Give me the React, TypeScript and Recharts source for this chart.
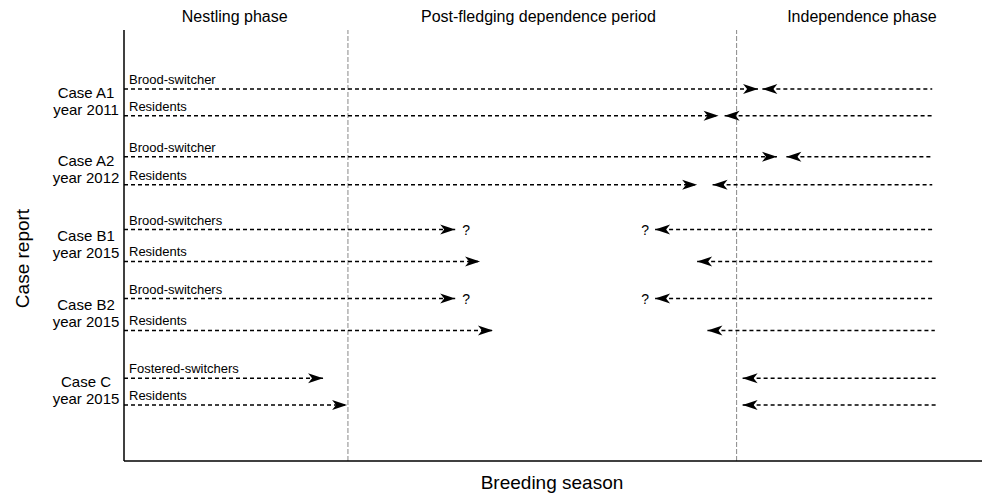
import React from 'react';
import { ComposedChart, XAxis, YAxis, ReferenceLine, Scatter } from 'recharts';

const FONT = '"Liberation Sans", Arial, Helvetica, sans-serif';

// season axis runs 0..100, case axis runs 0..100 (top to bottom)
const phaseNames = ['Nestling phase', 'Post-fledging dependence period', 'Independence phase'];
const phaseLabelAt = [12.9, 48.3, 86.0];
const phaseBounds = [26.1, 71.4];

const caseNames = ['Case A1', 'Case A2', 'Case B1', 'Case B2', 'Case C'];
const caseYears = ['year 2011', 'year 2012', 'year 2015', 'year 2015', 'year 2015'];

const rowGroups = [
  'Brood-switcher', 'Residents',
  'Brood-switcher', 'Residents',
  'Brood-switchers', 'Residents',
  'Brood-switchers', 'Residents',
  'Fostered-switchers', 'Residents',
];
const rowPos = [13.7, 19.9, 29.4, 35.9, 46.3, 53.7, 62.3, 69.7, 80.8, 87.0];
// last seen with parents (arrow coming from the left)
const leaveTip = [73.9, 69.3, 76.1, 66.8, 38.6, 41.5, 38.6, 43.0, 23.2, 26.0];
// first seen independent (arrow coming from the right)
const returnTip = [74.4, 70.0, 77.2, 68.6, 61.9, 66.8, 61.9, 68.0, 72.1, 72.1];
const returnFrom = [94.2, 94.2, 94.2, 94.2, 94.5, 94.5, 94.5, 94.5, 94.8, 94.8];
const uncertain = [false, false, false, false, true, false, true, false, false, false];

const caseCentre = caseNames.map((_, i) => (rowPos[2 * i] + rowPos[2 * i + 1]) / 2);

const labelPts = rowGroups.map((g, i) => ({ x: 0, y: rowPos[i], label: g }));
const phasePts = phaseNames.map((p, i) => ({ x: phaseLabelAt[i], y: 0, label: p }));
const rightHeads = leaveTip.map((x, i) => ({ x, y: rowPos[i], q: uncertain[i] }));
const leftHeads = returnTip.map((x, i) => ({ x, y: rowPos[i], q: uncertain[i] }));

const dash = { stroke: '#000', strokeWidth: 1.5, strokeDasharray: '4 3' };

function RightHead(props: any) {
  const { cx, cy, payload } = props;
  return (
    <g>
      <path d={`M${cx},${cy} L${cx - 15},${cy - 5} L${cx - 11},${cy} L${cx - 15},${cy + 5} Z`} fill="#000" />
      {payload.q && (
        <text x={cx + 11} y={cy + 5} textAnchor="middle" fontSize={14} fontFamily={FONT} fill="#000">?</text>
      )}
    </g>
  );
}

function LeftHead(props: any) {
  const { cx, cy, payload } = props;
  return (
    <g>
      <path d={`M${cx},${cy} L${cx + 15},${cy - 5} L${cx + 11},${cy} L${cx + 15},${cy + 5} Z`} fill="#000" />
      {payload.q && (
        <text x={cx - 10} y={cy + 5} textAnchor="middle" fontSize={14} fontFamily={FONT} fill="#000">?</text>
      )}
    </g>
  );
}

function GroupLabel(props: any) {
  const { cx, cy, payload } = props;
  return (
    <text x={cx + 5} y={cy - 5} fontSize={13} fontFamily={FONT} fill="#000">{payload.label}</text>
  );
}

function PhaseLabel(props: any) {
  const { cx, cy, payload } = props;
  return (
    <text x={cx} y={cy - 8} textAnchor="middle" fontSize={16} fontFamily={FONT} fill="#000">{payload.label}</text>
  );
}

function CaseTick(props: any) {
  const { x, y, index } = props;
  return (
    <g>
      <text x={x - 38} y={y - 4.5} textAnchor="middle" fontSize={15} fontFamily={FONT} fill="#000">{caseNames[index]}</text>
      <text x={x - 38} y={y + 12.5} textAnchor="middle" fontSize={15} fontFamily={FONT} fill="#000">{caseYears[index]}</text>
    </g>
  );
}

export default function App() {
  return (
    <div style={{ position: 'absolute', left: 0, top: 0, background: '#fff' }}>
      <ComposedChart width={982} height={496} margin={{ top: 30, right: 0, bottom: 0, left: 0 }}>
        <XAxis
          dataKey="x"
          type="number"
          domain={[0, 100]}
          height={35}
          tick={false}
          tickLine={false}
          axisLine={{ stroke: '#000', strokeWidth: 1.5 }}
          label={{
            content: (p: any) => {
              const vb = p.viewBox;
              return (
                <text x={vb.x + vb.width / 2 - 1} y={vb.y + 28} textAnchor="middle" fontSize={19} fontFamily={FONT} fill="#000">
                  Breeding season
                </text>
              );
            },
          }}
        />
        <YAxis
          dataKey="y"
          type="number"
          domain={[0, 100]}
          reversed
          width={124}
          ticks={caseCentre}
          interval={0}
          tickSize={0}
          tickMargin={0}
          tickLine={false}
          tick={<CaseTick />}
          axisLine={{ stroke: '#000', strokeWidth: 1.5 }}
          label={{
            content: (p: any) => {
              const vb = p.viewBox;
              const cx = vb.x + 22;
              const cy = vb.y + vb.height / 2 + 13;
              return (
                <text x={cx} y={cy} transform={`rotate(-90, ${cx}, ${cy})`} textAnchor="middle" dominantBaseline="central" fontSize={19} fontFamily={FONT} fill="#000">
                  Case report
                </text>
              );
            },
          }}
        />

        {phaseBounds.map((b) => (
          <ReferenceLine key={'b' + b} x={b} stroke="#888" strokeWidth={1} strokeDasharray="5 2" />
        ))}

        {rowPos.map((y, i) => (
          <ReferenceLine key={'l' + i} segment={[{ x: 0, y }, { x: leaveTip[i], y }]} {...dash} />
        ))}
        {rowPos.map((y, i) => (
          <ReferenceLine key={'r' + i} segment={[{ x: returnTip[i], y }, { x: returnFrom[i], y }]} {...dash} />
        ))}

        <Scatter data={rightHeads} shape={<RightHead />} isAnimationActive={false} />
        <Scatter data={leftHeads} shape={<LeftHead />} isAnimationActive={false} />
        <Scatter data={labelPts} shape={<GroupLabel />} isAnimationActive={false} />
        <Scatter data={phasePts} shape={<PhaseLabel />} isAnimationActive={false} />
      </ComposedChart>
    </div>
  );
}
